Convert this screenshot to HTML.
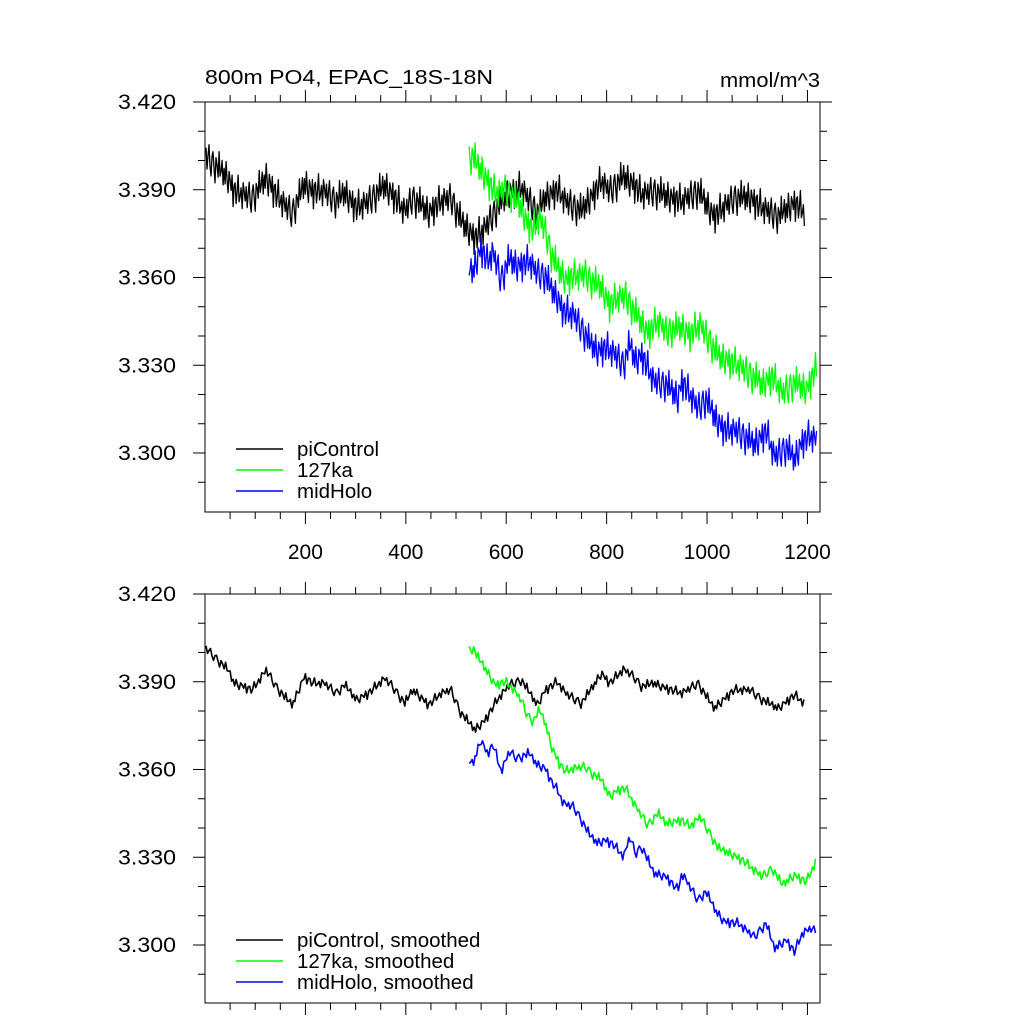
<!DOCTYPE html>
<html><head><meta charset="utf-8"><style>
body{margin:0;background:#fff}
svg{display:block}
text{font-family:"Liberation Sans",Arial,sans-serif;fill:#000}
</style></head><body>
<svg id="chart" width="1024" height="1024" viewBox="0 0 1024 1024">
<text x="205" y="84" font-size="20" textLength="288" lengthAdjust="spacingAndGlyphs">800m PO4, EPAC_18S-18N</text>
<text x="820" y="87" font-size="20" text-anchor="end" textLength="100" lengthAdjust="spacingAndGlyphs">mmol/m^3</text>
</svg>
<script>
const piYears=[2,22,46,58,78,94,122,142,158,174,198,214,238,262,278,302,326,358,374,398,414,446,470,490,510,538,558,582,606,630,662,678,702,718,750,790,806,834,854,870,894,918,950,982,1014,1054,1086,1110,1142,1174,1194];
const piValues=[3.4014,3.3980,3.3940,3.3895,3.3883,3.3872,3.3940,3.3883,3.3849,3.3821,3.3918,3.3895,3.3895,3.3861,3.3889,3.3838,3.3861,3.3912,3.3883,3.3826,3.3872,3.3821,3.3861,3.3872,3.3792,3.3735,3.3769,3.3838,3.3889,3.3906,3.3821,3.3872,3.3900,3.3861,3.3826,3.3929,3.3895,3.3943,3.3918,3.3883,3.3895,3.3878,3.3861,3.3895,3.3809,3.3872,3.3872,3.3838,3.3809,3.3855,3.3826];
const lgYears=[526,534,542,554,566,578,598,610,630,642,654,666,678,690,706,718,734,758,770,790,806,822,838,858,882,902,918,950,966,986,1002,1022,1046,1070,1094,1110,1130,1150,1174,1198,1218];
const lgValues=[3.4009,3.4014,3.3986,3.3957,3.3923,3.3889,3.3900,3.3883,3.3838,3.3786,3.3764,3.3804,3.3758,3.3678,3.3621,3.3593,3.3604,3.3610,3.3587,3.3564,3.3507,3.3530,3.3536,3.3473,3.3410,3.3450,3.3416,3.3427,3.3405,3.3439,3.3393,3.3330,3.3313,3.3291,3.3256,3.3234,3.3262,3.3205,3.3239,3.3216,3.3291];
const mhYears=[526,534,550,562,574,590,606,622,646,662,678,690,702,714,734,750,766,782,798,814,834,846,858,870,894,918,942,950,966,982,998,1018,1034,1062,1094,1118,1134,1158,1174,1190,1206,1218];
const mhValues=[3.3627,3.3621,3.3701,3.3655,3.3684,3.3593,3.3661,3.3638,3.3655,3.3615,3.3604,3.3558,3.3530,3.3484,3.3473,3.3427,3.3376,3.3348,3.3359,3.3342,3.3302,3.3370,3.3313,3.3336,3.3245,3.3234,3.3188,3.3245,3.3199,3.3154,3.3182,3.3114,3.3080,3.3074,3.3028,3.3074,3.2988,3.3017,3.2977,3.3040,3.3057,3.3045];
const jitter=[0.003,-0.004,0.001,0.005,-0.002,-0.005,0.002,0.004,-0.001,-0.006,0.003,0.001,-0.003,0.006,-0.002,0.000,0.004,-0.004,0.002,-0.003,0.005,-0.001,-0.005,0.003,0.001,-0.002,0.004,-0.006,0.002,0.003,-0.004,0.000,0.006,-0.003,-0.001,0.002,-0.005,0.004,0.001,-0.002];
const yTicks=[3.420,3.390,3.360,3.330,3.300];
const yTickLabels=["3.420","3.390","3.360","3.330","3.300"];
const xTicks=[200,400,600,800,1000,1200];

const NS="http://www.w3.org/2000/svg";
const svg=document.getElementById('chart');
const X0=205,X1=820,XMIN=0,XMAX=1225,YMAX=3.420,PPU=2925;
function sx(v){return X0+(v-XMIN)*(X1-X0)/(XMAX-XMIN);}
function mk(tag,attrs,parent){const e=document.createElementNS(NS,tag);for(const k in attrs)e.setAttribute(k,attrs[k]);(parent||svg).appendChild(e);return e;}
function interp(xs,ys,x){if(x<=xs[0])return ys[0];for(let i=1;i<xs.length;i++){if(x<=xs[i]){const t=(x-xs[i-1])/(xs[i]-xs[i-1]);return ys[i-1]+t*(ys[i]-ys[i-1]);}}return ys[ys.length-1];}

function panel(top,bottom,raw,legendTexts,name){
  const sy=v=>top+(YMAX-v)*PPU;
  const g=mk('g',{});
  
  
  const series=[[piYears,piValues,'#000','picontrol'],[lgYears,lgValues,'#00ff00','127ka'],[mhYears,mhValues,'#0000ff','midholo']];
  series.forEach(([xs,ys,col,nm],si)=>{
    let pts=[];
    const step=raw?2:3,amp=raw?1:0.3;
    let k=si*7;
    for(let yr=xs[0];yr<=xs[xs.length-1];yr+=step){pts.push(sx(yr).toFixed(1)+','+sy(interp(xs,ys,yr)+amp*jitter[k%jitter.length]).toFixed(1));k++;}
    const pl=mk('polyline',{points:pts.join(' '),fill:'none',stroke:col,'stroke-width':raw?1.3:1.6,'stroke-linejoin':'round'},g);
    
    
  });
  const fr=mk('rect',{x:X0,y:top,width:X1-X0,height:bottom-top,fill:'none',stroke:'#000','stroke-width':1},g);
  
  
  for(let v=50;v<XMAX;v+=50){
    const major=v%200===0,L=major?12:7,x=sx(v);
    mk('line',{x1:x,x2:x,y1:top,y2:top-L,stroke:'#000'},g);
    mk('line',{x1:x,x2:x,y1:bottom,y2:bottom+L,stroke:'#000'},g);
  }
  for(let m=0;m<=13;m++){
    const v=3.42-m*0.01,y=sy(v);if(y>bottom+0.5)break;
    const major=m%3===0,L=major?12:7;
    mk('line',{x1:X0,x2:X0-L,y1:y,y2:y,stroke:'#000'},g);
    mk('line',{x1:X1,x2:X1+L,y1:y,y2:y,stroke:'#000'},g);
  }
  yTicks.forEach((v,i)=>{
    const t=mk('text',{x:176,y:sy(v)+7,'font-size':21,'text-anchor':'end',textLength:58,lengthAdjust:'spacingAndGlyphs'},g);
    t.textContent=yTickLabels[i];
    
    
  });
  if(raw){
    xTicks.forEach(v=>{
      const t=mk('text',{x:sx(v),y:bottom+47,'font-size':21,'text-anchor':'middle'},g);
      t.textContent=String(v);
      
      
    });
  }
  const cols=['#000','#00ff00','#0000ff'];
  const ly0=raw?449:940;
  legendTexts.forEach((s,i)=>{
    const y=ly0+i*21;
    const le=mk('g',{},g);
    
    
    mk('line',{x1:236,x2:283,y1:y,y2:y,stroke:cols[i],'stroke-width':1.6},le);
    const t=mk('text',{x:297,y:y+7,'font-size':20.5},le);
    t.textContent=s;
  });
}
panel(102,512,true,['piControl','127ka','midHolo'],'raw-panel');
panel(594,1003,false,['piControl, smoothed','127ka, smoothed','midHolo, smoothed'],'smoothed-panel');
</script>
</body></html>
